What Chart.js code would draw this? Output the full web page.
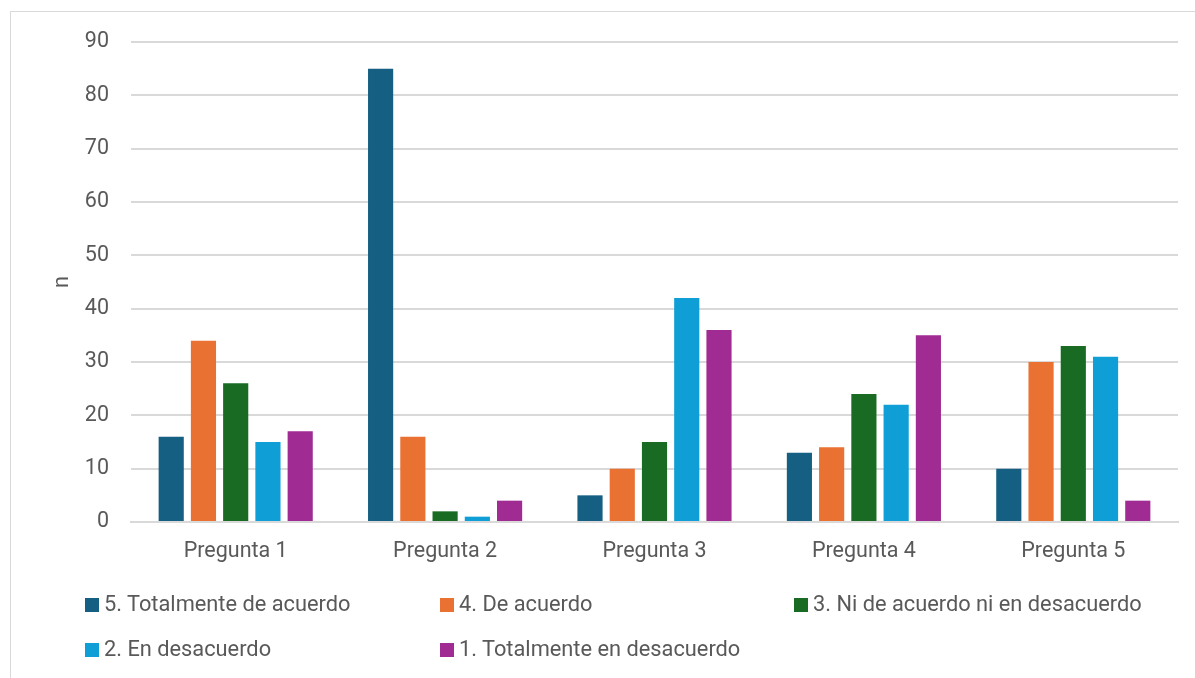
<!DOCTYPE html>
<html>
<head>
<meta charset="utf-8">
<script src="https://cdn.jsdelivr.net/npm/chart.js@4"></script>
<style>
  html, body { margin: 0; padding: 0; background: #fff; overflow: hidden; }
  #wrap { position: relative; width: 1195px; height: 678px; }
  #frame { position: absolute; left: 10px; top: 11px; width: 1200px; height: 700px; border: 1px solid #d9d9d9; box-sizing: border-box; }
  #myChart { position: absolute; left: 0; top: 0; }
  .legend { position: absolute; font-family: Roboto, sans-serif; font-size: 21.8px; color: #595959; white-space: nowrap; line-height: 26px; }
  .legend span.box { display: inline-block; width: 14px; height: 14px; margin-right: 5px; vertical-align: -1px; }
</style>
</head>
<body>
<div id="wrap">
  <div id="frame"></div>
  <canvas id="myChart" width="1195" height="678"></canvas>
  <div id="legend"></div>
</div>
<script>
const categories = ['Pregunta 1', 'Pregunta 2', 'Pregunta 3', 'Pregunta 4', 'Pregunta 5'];
const seriesNames = [
    '5. Totalmente de acuerdo',
    '4. De acuerdo',
    '3. Ni de acuerdo ni en desacuerdo',
    '2. En desacuerdo',
    '1. Totalmente en desacuerdo',
];
const totalmenteDeAcuerdo = [16, 85, 5, 13, 10];
const deAcuerdo = [34, 16, 10, 14, 30];
const niDeAcuerdo = [26, 2, 15, 24, 33];
const enDesacuerdo = [15, 1, 42, 22, 31];
const totalmenteEnDesacuerdo = [17, 4, 36, 35, 4];
const colors = ['#156082', '#E97132', '#196B24', '#0F9ED5', '#A02B93'];

const values = [totalmenteDeAcuerdo, deAcuerdo, niDeAcuerdo, enDesacuerdo, totalmenteEnDesacuerdo];
const font = { family: 'Roboto, sans-serif', size: 21.5 };

const ctx = document.getElementById('myChart').getContext('2d');
new Chart(ctx, {
    type: 'bar',
    data: {
        labels: categories,
        datasets: values.map(function (vals, i) {
            return {
                label: seriesNames[i],
                data: vals,
                backgroundColor: colors[i],
                categoryPercentage: 0.77,
                barPercentage: 0.78,
            };
        }),
    },
    options: {
        responsive: false,
        animation: false,
        layout: { padding: { left: 46, top: 42, right: 17, bottom: 116 } },
        plugins: {
            legend: { display: false },
            tooltip: { enabled: false },
        },
        scales: {
            x: {
                grid: { display: false, drawTicks: false },
                border: { color: '#d9d9d9', width: 2 },
                ticks: { color: '#595959', font: font, padding: 17, maxRotation: 0 },
                afterFit: function (s) { s.height = 40; },
            },
            y: {
                min: 0,
                max: 90,
                ticks: { stepSize: 10, color: '#595959', font: font, padding: 22 },
                grid: { color: '#d9d9d9', lineWidth: 2, drawTicks: false },
                border: { display: false },
                title: { display: true, text: 'n', color: '#595959', font: font, padding: 4 },
                afterFit: function (s) { s.width = 85; },
            },
        },
    },
});

// legend laid out as a grid like the original
const legendPos = [[85, 591], [440, 591], [794, 591], [85, 636], [440, 636]];
const legend = document.getElementById('legend');
seriesNames.forEach(function (name, i) {
    const d = document.createElement('div');
    d.className = 'legend';
    d.style.left = legendPos[i][0] + 'px';
    d.style.top = legendPos[i][1] + 'px';
    d.innerHTML = '<span class="box" style="background:' + colors[i] + '"></span>' + name;
    legend.appendChild(d);
});
</script>
</body>
</html>
